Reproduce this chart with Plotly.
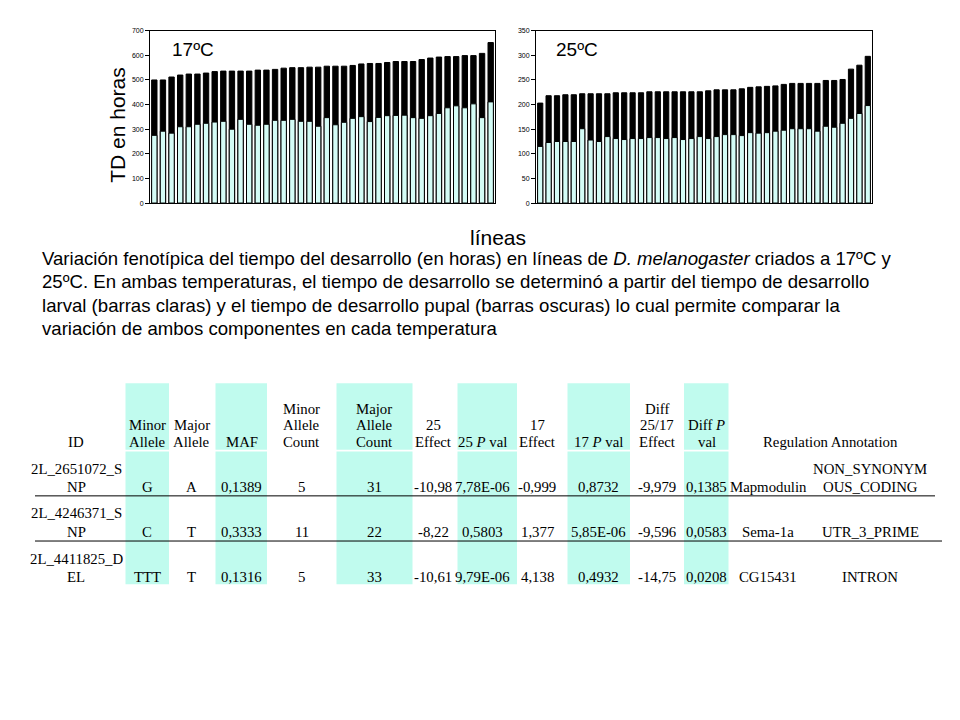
import plotly.graph_objects as go

W, H = 960, 720

# ---------------- data ----------------
lines = list(range(1, 41))
total_17 = [500, 500, 512, 520, 524, 524, 528, 534, 536, 536, 536, 536, 540, 540, 543, 548, 550, 550, 552, 552,
            556, 556, 556, 559, 565, 567, 567, 571, 575, 575, 575, 583, 589, 593, 595, 595, 599, 599, 608, 652]
larval_17 = [275, 292, 284, 310, 310, 320, 324, 329, 332, 300, 340, 320, 316, 320, 336, 336, 340, 332, 332, 312,
             347, 318, 328, 344, 351, 331, 348, 355, 356, 357, 347, 344, 355, 364, 387, 395, 387, 403, 347, 411]
total_25 = [203, 218, 218, 220, 220, 222, 222, 222, 222, 224, 224, 224, 224, 226, 226, 226, 226, 226, 226, 226,
            228, 230, 230, 230, 232, 235, 236, 237, 238, 241, 243, 243, 243, 243, 249, 249, 251, 272, 280, 298]
larval_25 = [115, 123, 125, 125, 125, 151, 128, 125, 135, 131, 129, 131, 131, 133, 133, 131, 133, 129, 131, 135,
             131, 135, 139, 139, 137, 143, 142, 143, 146, 148, 151, 151, 151, 146, 156, 154, 162, 172, 182, 198]

panel_labels = ["17ºC", "25ºC"]
y_axis_title = "TD en horas"
x_axis_title = "líneas"
caption_lines = [
    "Variación fenotípica del tiempo del desarrollo (en horas) en líneas de <i>D. melanogaster</i> criados a 17ºC y",
    "25ºC. En ambas temperaturas, el tiempo de desarrollo se determinó a partir del tiempo de desarrollo",
    "larval (barras claras) y el tiempo de desarrollo pupal (barras oscuras) lo cual permite comparar la",
    "variación de ambos componentes en cada temperatura",
]

# table data
table_headers = [
    ["ID"], ["Minor", "Allele"], ["Major", "Allele"], ["MAF"], ["Minor", "Allele", "Count"],
    ["Major", "Allele", "Count"], ["25", "Effect"], ["25 <i>P</i> val"], ["17", "Effect"], ["17 <i>P</i> val"],
    ["Diff", "25/17", "Effect"], ["Diff <i>P</i>", "val"], ["Regulation Annotation"],
]
snp_id = [["2L_2651072_S", "NP"], ["2L_4246371_S", "NP"], ["2L_4411825_D", "EL"]]
minor_allele = ["G", "C", "TTT"]
major_allele = ["A", "T", "T"]
maf = ["0,1389", "0,3333", "0,1316"]
minor_count = ["5", "11", "5"]
major_count = ["31", "22", "33"]
effect_25 = ["-10,98", "-8,22", "-10,61"]
pval_25 = ["7,78E-06", "0,5803", "9,79E-06"]
effect_17 = ["-0,999", "1,377", "4,138"]
pval_17 = ["0,8732", "5,85E-06", "0,4932"]
diff_effect = ["-9,979", "-9,596", "-14,75"]
diff_pval = ["0,1385", "0,0583", "0,0208"]
gene = ["Mapmodulin", "Sema-1a", "CG15431"]
annotation = [["NON_SYNONYM", "OUS_CODING"], ["UTR_3_PRIME"], ["INTRON"]]

# ---------------- layout helpers (pixel -> paper) ----------------
def px(x):
    return x / W

def py(y):
    return 1 - y / H

BLACK = "#000000"
LIGHT = "#d4fcf6"
TCYAN = "#c0fbee"
SANS = "Arial, Liberation Sans, sans-serif"
SERIF = "Times New Roman, Liberation Serif, serif"

fig = go.Figure()
for xa, ya, tot, lar in [("x", "y", total_17, larval_17), ("x2", "y2", total_25, larval_25)]:
    fig.add_trace(go.Bar(x=lines, y=tot, xaxis=xa, yaxis=ya, width=0.62,
                         marker=dict(color=BLACK, line=dict(color=BLACK, width=1)),
                         showlegend=False, hoverinfo="skip"))
    fig.add_trace(go.Bar(x=lines, y=lar, xaxis=xa, yaxis=ya, width=0.62,
                         marker=dict(color=LIGHT, line=dict(color=BLACK, width=1)),
                         showlegend=False, hoverinfo="skip"))

common_x = dict(range=[0.5, 40.5], showline=True, linecolor=BLACK, linewidth=1, mirror=True,
                showticklabels=False, ticks="", showgrid=False, zeroline=False)
common_y = dict(showline=True, linecolor=BLACK, linewidth=1, mirror=True, ticks="outside",
                ticklen=4, tickcolor=BLACK, tickwidth=1, showgrid=False, zeroline=False,
                tickfont=dict(family=SANS, size=7, color=BLACK))

plot_top, plot_bot = 27, 201
fig.update_layout(
    width=W, height=H, margin=dict(l=0, r=0, t=0, b=0),
    paper_bgcolor="white", plot_bgcolor="white", barmode="overlay",
    xaxis=dict(domain=[px(150), px(495)], **common_x),
    yaxis=dict(domain=[py(plot_bot), py(plot_top)], range=[0, 700], dtick=100, **common_y),
    xaxis2=dict(domain=[px(536), px(872)], anchor="y2", **common_x),
    yaxis2=dict(domain=[py(plot_bot), py(plot_top)], range=[0, 350], dtick=50, anchor="x2", **common_y),
)

ann = []
for lbl, xl in zip(panel_labels, [170, 554]):
    ann.append(dict(text=lbl, x=px(xl), y=py(46), xref="paper", yref="paper", xanchor="left",
                    yanchor="middle", showarrow=False, font=dict(family=SANS, size=19, color=BLACK)))
ann.append(dict(text=y_axis_title, x=px(118), y=py(122), xref="paper", yref="paper", textangle=-90,
                xanchor="center", yanchor="middle", showarrow=False,
                font=dict(family=SANS, size=21, color=BLACK)))
ann.append(dict(text=x_axis_title, x=px(498), y=py(236), xref="paper", yref="paper",
                xanchor="center", yanchor="middle", showarrow=False,
                font=dict(family=SANS, size=21, color=BLACK)))
for i, t in enumerate(caption_lines):
    ann.append(dict(text=t, x=px(40), y=py(257 + 23.6 * i), xref="paper", yref="paper",
                    xanchor="left", yanchor="middle", showarrow=False,
                    font=dict(family=SANS, size=18.6, color=BLACK)))

# ---------------- table ----------------
col_centers = [76, 147, 191.5, 241.5, 301.5, 374, 433, 482, 537, 598, 657, 706.5, 768, 870]
header_centers = col_centers[:12] + [830]
cyan_cols = [(125.5, 169), (215.5, 267), (336.5, 412.5), (457.5, 517), (567.5, 630), (684, 728.5)]
head_top, head_bot, body_top, body_bot = 383, 450, 452, 586
head_line_bottom, head_spacing = 442.5, 17
row_line_bottom = [488, 533, 579]
row_spacing = 18.5
separators = [(496.7, 35, 935), (542.3, 35, 942)]

shapes = []
for x0, x1 in cyan_cols:
    for y0, y1 in [(head_top, head_bot), (body_top, body_bot)]:
        shapes.append(dict(type="rect", xref="paper", yref="paper", x0=px(x0), x1=px(x1),
                           y0=py(y1), y1=py(y0), fillcolor=TCYAN, line=dict(width=0), layer="below"))
for yy, x0, x1 in separators:
    shapes.append(dict(type="line", xref="paper", yref="paper", x0=px(x0), x1=px(x1), y0=py(yy), y1=py(yy),
                       line=dict(color=BLACK, width=1)))

def cell(text_lines, xc, ybottom, spacing):
    n = len(text_lines)
    for k, t in enumerate(text_lines):
        yc = ybottom - (n - 1 - k) * spacing
        ann.append(dict(text=t, x=px(xc), y=py(yc), xref="paper", yref="paper", xanchor="center",
                        yanchor="middle", showarrow=False, font=dict(family=SERIF, size=14.8, color=BLACK)))

for hdr, xc in zip(table_headers, header_centers):
    cell(hdr, xc, head_line_bottom, head_spacing)

columns = [snp_id, minor_allele, major_allele, maf, minor_count, major_count, effect_25, pval_25,
           effect_17, pval_17, diff_effect, diff_pval, gene, annotation]
for col, xc in zip(columns, col_centers):
    for r, v in enumerate(col):
        vals = v if isinstance(v, list) else [v]
        cell(vals, xc, row_line_bottom[r], row_spacing)

fig.update_layout(annotations=ann, shapes=shapes)

fig.write_html("out.html", config={"displayModeBar": False},
               post_script="document.body.style.margin='0px';document.body.style.overflow='hidden';")
